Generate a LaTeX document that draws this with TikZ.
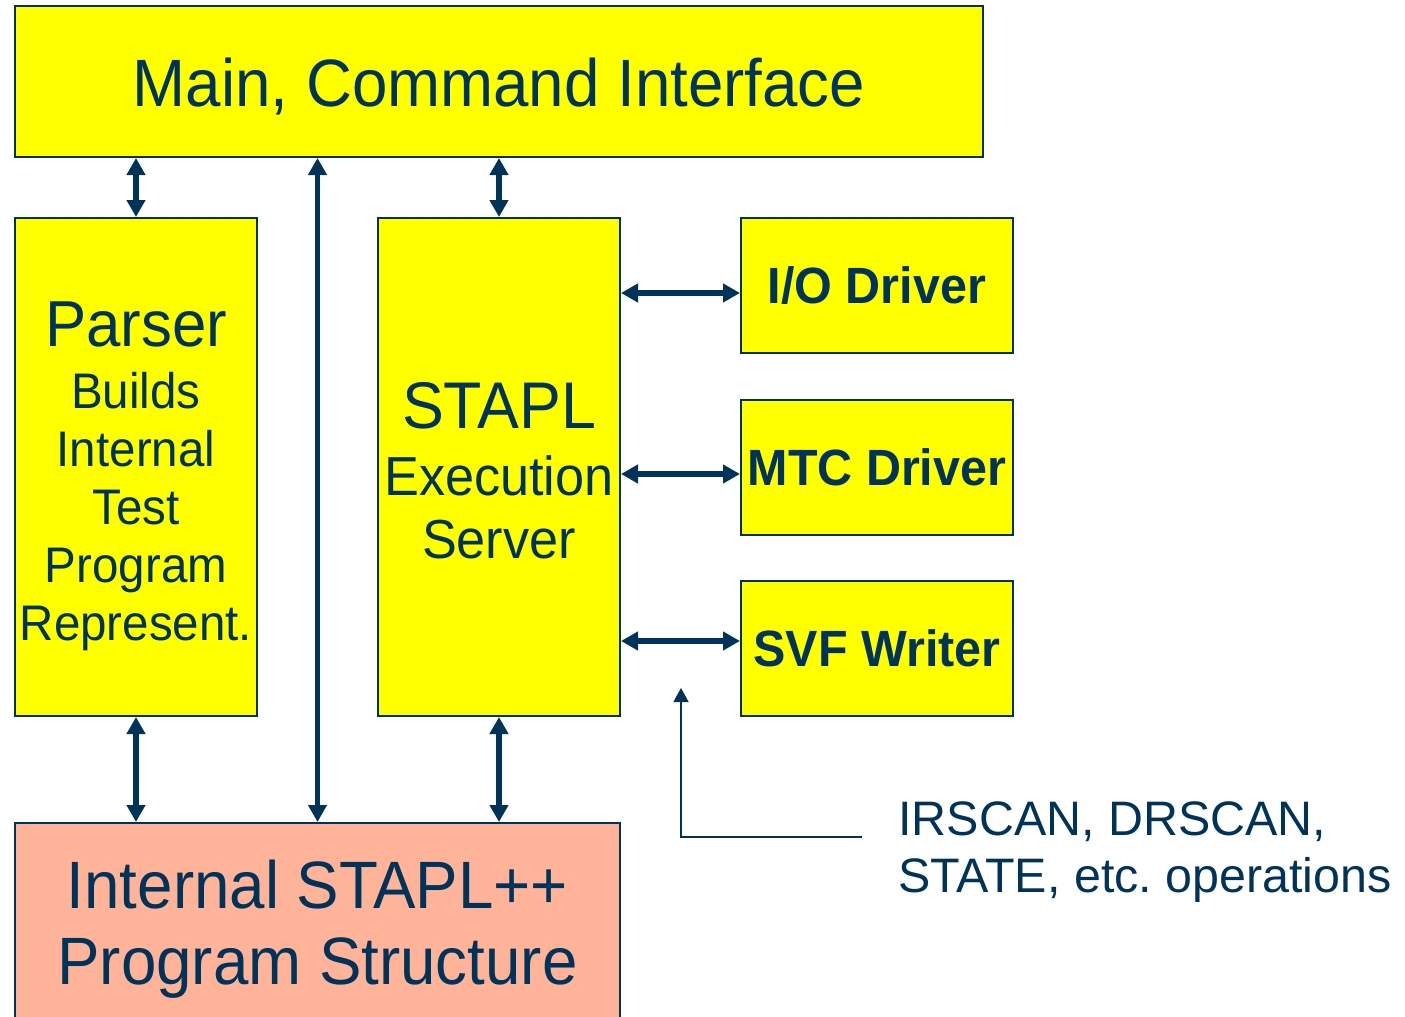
\documentclass[tikz,border=0pt]{standalone}
\usepackage{fontspec}
\setmainfont{Liberation Sans}[FakeStretch=0.95]
\newfontfamily\notefont{Liberation Sans}
\usetikzlibrary{arrows.meta}
\definecolor{navy}{RGB}{0,51,89}
\definecolor{boxyellow}{RGB}{255,255,0}
\definecolor{salmon}{RGB}{255,180,153}
\newcommand{\fs}[2]{\fontsize{#1}{#2}\selectfont}
% invisible strut that lowers a text block inside its box
\newcommand{\lift}[1]{\rule{0pt}{#1}}

\begin{document}
\begin{tikzpicture}[x=0.5pt,y=-0.5pt,
  block/.style={draw=navy, line width=1pt, fill=boxyellow, text=navy,
                inner sep=0pt, align=center},
  link/.style={draw=navy, line width=2.8pt,
               {Triangle[length=8.5pt,width=9pt]}-{Triangle[length=8.5pt,width=9pt]}},
  note/.style={draw=navy, line width=0.8pt, -{Triangle[length=7pt,width=7.5pt]}}]
  \useasboundingbox (0,0) rectangle (1405,1017);

  % main blocks
  \node[block, minimum width=484pt, minimum height=75.5pt, font=\fs{33.5}{40}]
    (main) at (499,81.5) {\lift{29.5pt}Main, Command Interface};
  \node[block, minimum width=121pt, minimum height=249pt, font=\fs{25}{29}]
    (parser) at (136,467)
    {{\fs{32.5}{36}\lift{31.5pt}Parser}\\[2pt]Builds\\Internal\\Test\\Program\\Represent.};
  \node[block, minimum width=121pt, minimum height=249pt, font=\fs{27.5}{31.5}]
    (stapl) at (499,467) {{\fs{33}{36}\lift{26.8pt}STAPL}\\[2pt]Execution\\Server};

  % drivers
  \node[block, minimum width=136pt, minimum height=67.5pt, font=\bfseries\fs{25.5}{30}]
    (io) at (877,285.5) {I/O Driver};
  \node[block, minimum width=136pt, minimum height=67.5pt, font=\bfseries\fs{25.5}{30}]
    (mtc) at (877,467.5) {MTC Driver};
  \node[block, minimum width=136pt, minimum height=67.5pt, font=\bfseries\fs{25.5}{30}]
    (svf) at (877,648.5) {SVF Writer};

  % program structure
  \node[block, fill=salmon, minimum width=302.5pt, minimum height=101pt, font=\fs{33.5}{38}]
    (internal) at (317.5,924) {\lift{29.5pt}Internal STAPL++\\Program Structure};

  % operations note
  \node[anchor=base west, inner sep=0pt, text=navy, align=left,
        font=\notefont\fs{24.2}{28.5}]
    (ops) at (898,892) {IRSCAN, DRSCAN,\\STATE, etc.\ operations};
  \coordinate (opsfoot) at (862,837);
  \coordinate (opstip) at (681,688);

  % vertical links
  \draw[link] (main.south -| parser.north) -- (parser.north);
  \draw[link] (main.south -| internal.north) -- (internal.north);
  \draw[link] (main.south) -- (stapl.north);
  \draw[link] (parser.south) -- (parser.south |- internal.north);
  \draw[link] (stapl.south) -- (stapl.south |- internal.north);

  % horizontal links
  \draw[link] ([yshift=-3.75pt]io.west -| stapl.east) -- ([yshift=-3.75pt]io.west);
  \draw[link] ([yshift=-3.25pt]mtc.west -| stapl.east) -- ([yshift=-3.25pt]mtc.west);
  \draw[link] ([yshift=3.75pt]svf.west -| stapl.east) -- ([yshift=3.75pt]svf.west);

  \draw[note] (opsfoot) -| (opstip);
\end{tikzpicture}
\end{document}
